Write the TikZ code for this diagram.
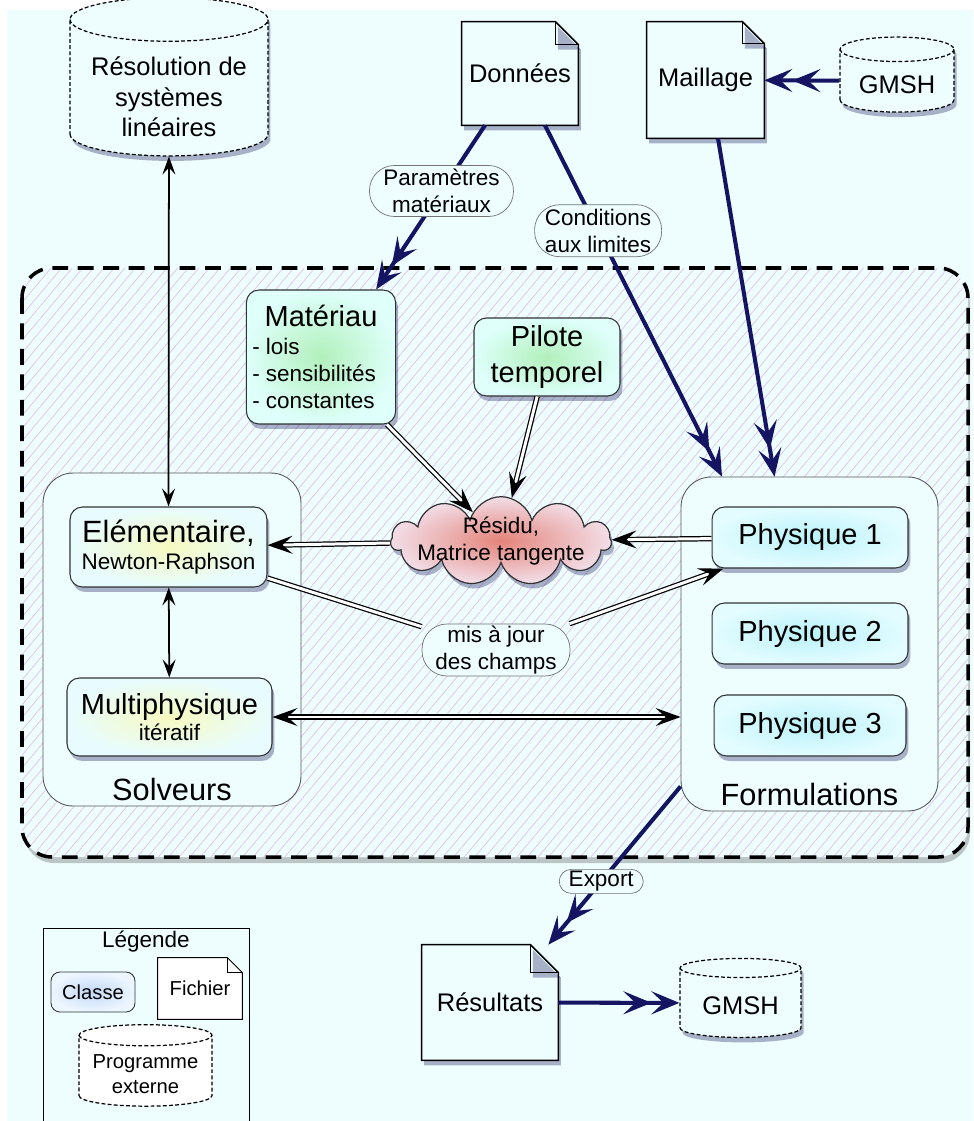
\documentclass[tikz,border=0pt]{standalone}
\usepackage{fontspec}
\setmainfont{Liberation Sans}
\usetikzlibrary{arrows.meta, positioning, shapes.geometric, shapes.symbols, shadows, patterns.meta}

\definecolor{fondcyan}{RGB}{238,254,255}
\definecolor{marine}{RGB}{20,20,98}
\definecolor{hachure}{RGB}{224,198,238}
\definecolor{cyanbord}{RGB}{222,255,250}
\definecolor{vertcentre}{RGB}{178,240,188}
\definecolor{jaunebord}{RGB}{232,252,255}
\definecolor{jaunecentre}{RGB}{246,250,192}
\definecolor{bleubord}{RGB}{226,252,255}
\definecolor{bleucentre}{RGB}{186,242,250}
\definecolor{rosebord}{RGB}{242,222,232}
\definecolor{rosecentre}{RGB}{228,132,122}
\definecolor{legbord}{RGB}{236,246,255}
\definecolor{legcentre}{RGB}{196,216,246}

\pgfdeclarelayer{fond}
\pgfdeclarelayer{contour}
\pgfsetlayers{fond,contour,main}

\newcommand\policeT{\fontsize{17.5}{21}\selectfont}
\newcommand\policeA{\fontsize{16.5}{20}\selectfont}
\newcommand\policeB{\fontsize{14.5}{17.5}\selectfont}
\newcommand\policeC{\fontsize{12.8}{15.4}\selectfont}
\newcommand\policeD{\fontsize{11.5}{14}\selectfont}

% text of a cylinder, set lower than the centre of the shape
\newcommand\descente[2]{\raisebox{-#1}[\height][\depth]{\begin{tabular}{@{}c@{}}#2\end{tabular}}}

% outline of a file node, with its folded corner
\newcommand\coinfichier[3]{%
  \begin{pgfonlayer}{contour}
    \draw[#3] (#1.south west) -- (#1.north west) -- ([xshift=-#2]#1.north east)
      -- ([yshift=-#2]#1.north east) -- (#1.south east) -- cycle;
    \draw[#3, fill=none] ([xshift=-#2]#1.north east) |- ([yshift=-#2]#1.north east);
  \end{pgfonlayer}}

\begin{document}
\begin{tikzpicture}[x=0.02cm, y=-0.02cm,
    ombre/.style={drop shadow={shadow xshift=0.05cm, shadow yshift=-0.1cm,
                  opacity=0.3, fill=black!70!blue}},
    classe/.style={draw=black!80, line width=0.6pt, rounded corners=0.25cm, align=center},
    vert/.style={inner color=vertcentre, outer color=cyanbord},
    jaune/.style={inner color=jaunecentre, outer color=jaunebord},
    bleu/.style={inner color=bleucentre, outer color=bleubord},
    conteneur/.style={draw=black!65, line width=0.5pt, rounded corners=0.6cm, fill=fondcyan},
    titre/.style={font=\policeT, inner sep=0pt},
    fichier/.style={font=\policeB, inner sep=0pt},
    contour fichier/.style={draw, line width=0.9pt, fill=fondcyan, ombre},
    externe/.style={cylinder, shape border rotate=90, draw, line width=0.7pt,
                    dash pattern=on 2.2pt off 1.3pt, fill=fondcyan,
                    font=\policeB, inner sep=0pt},
    etiquette/.style={draw=black!55, line width=0.4pt, rounded corners=0.45cm,
                      fill=fondcyan, align=center, font=\policeC, inner sep=1pt},
    fleche/.style={line width=1pt,
                   {Stealth[length=3.6mm,width=2.6mm,inset=1.4mm]}-{Stealth[length=3.6mm,width=2.6mm,inset=1.4mm]}},
    lien/.style={line width=0.7pt, double=white, double distance=1.7pt,
                 -{Stealth[length=5mm,width=3.6mm,inset=2mm]}},
    flux/.style={draw=marine, line width=2.3pt,
                 -{Stealth[length=5.6mm,width=4.6mm,inset=2.4mm] Stealth[length=5.6mm,width=4.6mm,inset=2.4mm]}}
  ]
  \useasboundingbox (0,0) rectangle (973,1121);

  % fond et cadre hachure
  \begin{pgfonlayer}{fond}
    \fill[fondcyan] (7,10) rectangle (973,1121);
    \path[drop shadow={shadow xshift=0.04cm, shadow yshift=-0.12cm, opacity=0.45},
          preaction={fill=fondcyan},
          pattern={Lines[angle=50, distance=4.6pt, line width=0.45pt]}, pattern color=hachure,
          draw, line width=2pt, dash pattern=on 9pt off 5.5pt, rounded corners=0.6cm]
      (22,268) rectangle (968,857);
  \end{pgfonlayer}

  % programmes externes et fichiers
  \node[externe, ombre, aspect=0.28, minimum width=3.96cm, minimum height=2.5cm] (resol) at (169,88)
    {\descente{0.24cm}{Résolution de\\systèmes\\linéaires}};
  \node[fichier, minimum width=2.32cm, minimum height=2.06cm] (donnees) at (520,73.5) {Données};
  \coinfichier{donnees}{0.46cm}{contour fichier}
  \node[fichier, minimum width=2.34cm, minimum height=2.32cm] (maillage) at (705.5,80) {Maillage};
  \coinfichier{maillage}{0.44cm}{contour fichier}
  \node[externe, ombre, aspect=0.32, minimum width=2.28cm, minimum height=1.5cm] (gmshin) at (897,81)
    {\descente{0.12cm}{GMSH}};

  % classes
  \node[classe, vert, ombre, minimum width=2.96cm, minimum height=2.68cm] (materiau) at (321,357)
    {\parbox{2.75cm}{\centering\policeA Matériau\par\raggedright\policeC - lois\\- sensibilités\\- constantes}};
  \node[classe, vert, ombre, minimum width=2.92cm, minimum height=1.56cm, font=\policeA] (pilote) at (547,357)
    {Pilote\\temporel};
  \node[cloud, cloud puffs=11, cloud ignores aspect, draw=black!80, line width=0.7pt, ombre,
        inner color=rosecentre, outer color=rosebord, inner xsep=-0.12cm, inner ysep=-0.18cm,
        font=\policeC, align=center] (residu) at (501,541)
    {Résidu,\\Matrice tangente};

  % solveurs
  \node[conteneur, minimum width=5.16cm, minimum height=6.66cm] (solveurs) at (172,639.5) {};
  \node[titre, above=0.1cm of solveurs.south] (solveurstitre) {Solveurs};
  \node[classe, jaune, ombre, minimum width=3.94cm, minimum height=1.6cm] (elem) at (168.5,547)
    {{\policeT Elémentaire,}\\[3pt]{\policeC Newton-Raphson}};
  \node[classe, jaune, ombre, minimum width=4.1cm, minimum height=1.56cm] (multi) at (169.5,717)
    {{\policeA Multiphysique}\\[1pt]{\policeC itératif}};

  % formulations
  \node[conteneur, minimum width=5.14cm, minimum height=6.68cm] (formulations) at (809.5,644) {};
  \node[titre, above=0.1cm of formulations.south] (formulationstitre) {Formulations};
  \node[classe, bleu, ombre, minimum width=3.92cm, minimum height=1.22cm, font=\policeA] (phys1) at (810,537.5) {Physique 1};
  \node[classe, bleu, ombre, minimum width=3.92cm, minimum height=1.22cm, font=\policeA] (phys2) at (810,633.5) {Physique 2};
  \node[classe, bleu, ombre, minimum width=3.84cm, minimum height=1.22cm, font=\policeA] (phys3) at (810,725.5) {Physique 3};

  \node[etiquette, rounded corners=0.5cm, minimum width=2.96cm, minimum height=1.04cm] (majour) at (496,650)
    {mis à jour\\des champs};

  % sorties
  \node[fichier, minimum width=2.72cm, minimum height=2.3cm] (resultats) at (490,1002.5) {Résultats};
  \coinfichier{resultats}{0.56cm}{contour fichier}
  \node[externe, ombre, aspect=0.25, minimum width=2.42cm, minimum height=1.58cm] (gmshout) at (740.5,1003)
    {\descente{0.11cm}{GMSH}};

  % legende
  \draw[line width=0.5pt] (43,1121) |- (249,928) -- (249,1121);
  \node[font=\policeC] (legende) at (146,942) {Légende};
  \node[classe, inner color=legcentre, outer color=legbord, line width=0.5pt, rounded corners=0.18cm,
        minimum width=1.68cm, minimum height=0.8cm, font=\policeD] (legclasse) at (93,992) {Classe};
  \node[fichier, font=\policeD, minimum width=1.68cm, minimum height=1.22cm] (legfichier) at (200,988.5) {Fichier};
  \coinfichier{legfichier}{0.3cm}{draw, line width=0.5pt, fill=white}
  \node[externe, aspect=0.2, fill=white, font=\policeD, minimum width=2.66cm, minimum height=1.46cm] (legprog)
    at (145.5,1071) {\descente{0.1cm}{Programme\\externe}};

  % liens internes
  \draw[fleche] (resol) -- (elem);
  \draw[fleche] (elem) -- (multi);
  \draw[lien, {Stealth[length=5mm,width=3.6mm,inset=2mm]}-{Stealth[length=5mm,width=3.6mm,inset=2mm]}]
    (multi.east) -- (multi.east -| formulations.west);
  \draw[lien] (residu) -- (elem);
  \draw[lien] (phys1) -- (residu);
  \draw[lien, -] (elem) -- (majour);
  \draw[lien] (majour) -- (phys1);
  \draw[lien] (materiau) -- (residu);
  \draw[lien] (pilote) -- (residu);

  % flux de donnees
  \draw[flux] (gmshin) -- (maillage);
  \draw[flux] ([xshift=-0.7cm]donnees.south) --
    node[etiquette, pos=0.4, rounded corners=0.5cm, minimum width=2.88cm, minimum height=1.02cm] (param)
    {Paramètres\\matériaux} ([xshift=-0.4cm]materiau.north east);
  \draw[flux] ([xshift=0.5cm]donnees.south) --
    node[etiquette, pos=0.3, rounded corners=0.5cm, minimum width=2.54cm, minimum height=1.04cm] (condlim)
    {Conditions\\aux limites} ([xshift=-1.75cm]formulations.north);
  \draw[flux] ([xshift=0.25cm]maillage.south) -- ([xshift=-0.7cm]formulations.north);
  \draw[flux] ([yshift=0.5cm]formulations.south west) --
    node[etiquette, pos=0.6, rounded corners=0.24cm, minimum width=1.68cm, minimum height=0.48cm] (export)
    {Export} ([xshift=-0.2cm]resultats.north east);
  \draw[flux] (resultats) -- (gmshout);
\end{tikzpicture}
\end{document}
